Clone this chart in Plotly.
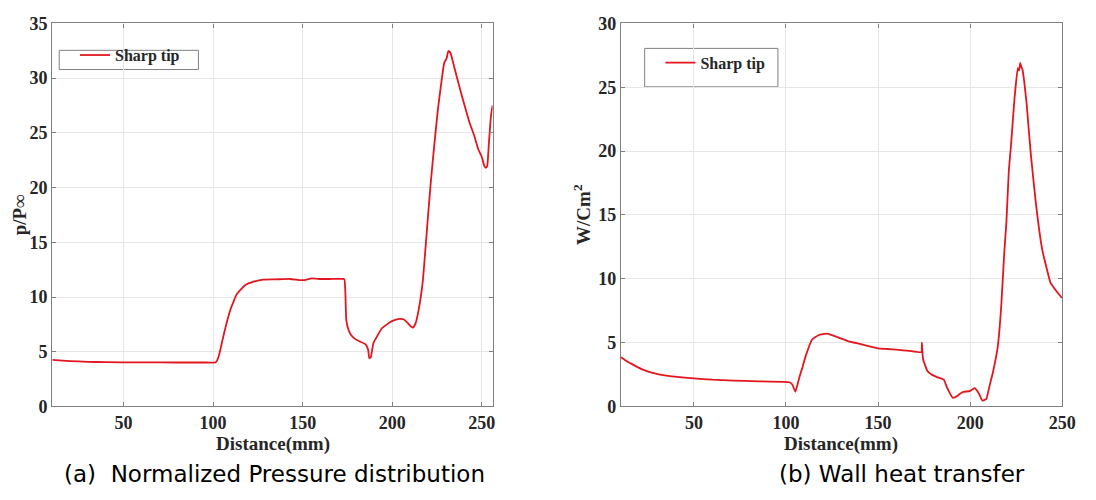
import plotly.graph_objects as go

# ---------- data ----------
dist_p = [10.3, 20, 30, 40, 60, 80, 95, 101.5, 103, 104.2, 106, 108, 110, 111.5, 113, 115, 118,
          122.6, 128, 135, 143, 148, 151, 155, 160, 165, 172.5, 173.3, 173.8, 174.3, 175, 176.7,
          179, 181, 185, 186.5, 187.2, 188, 189.5, 191.5, 194, 197, 199.8, 204, 206.5, 208.8,
          210.5, 211.5, 213, 214.7, 217, 219.7, 221.5, 223.5, 225.5, 227.3, 229, 230.3, 231.3,
          232.5, 234.6, 237, 240, 243, 245.6, 248, 250, 251.3, 252.2, 253, 253.9, 255.1, 256]
pressure = [4.25, 4.15, 4.08, 4.05, 4.03, 4.02, 4.02, 4.05, 4.5, 5.3, 6.6, 7.9, 9.0, 9.6, 10.2,
            10.6, 11.1, 11.4, 11.6, 11.62, 11.65, 11.55, 11.55, 11.7, 11.65, 11.65, 11.65, 11.6,
            10.5, 8.0, 7.3, 6.6, 6.2, 6.0, 5.7, 5.2, 4.4, 4.5, 5.8, 6.4, 7.1, 7.5, 7.8, 8.0, 7.95,
            7.6, 7.3, 7.2, 7.6, 8.8, 11.4, 16.9, 20.5, 24.0, 27.2, 29.5, 31.4, 31.8, 32.5, 32.3,
            31.0, 29.5, 27.7, 26.0, 24.8, 23.5, 22.8, 22.0, 21.8, 22.0, 24.0, 26.6, 27.5]

dist_q = [10.4, 14, 17.9, 22, 27, 35.9, 50, 60, 71.4, 85, 98.1, 101.9, 103.5, 105.1, 107.2, 109,
          110.8, 114.2, 117.9, 122.2, 128.6, 134, 140, 150, 155, 160, 167, 173.5, 173.8, 174.2,
          174.6, 176.7, 179, 182, 185.7, 187.4, 190.6, 192.8, 194.5, 196.3, 199.7, 202.4, 204.4,
          206.7, 208.8, 210.5, 212.4, 215, 216.8, 218.5, 219.7, 221, 222.2, 224, 225.8, 226.5,
          227.2, 227.8, 228.4, 229.3, 230.6, 232.9, 235.6, 239.1, 243.6, 247, 249.8]
heat = [3.86, 3.5, 3.2, 2.9, 2.65, 2.4, 2.2, 2.1, 2.03, 1.97, 1.93, 1.9, 1.7, 1.15, 2.25, 3.1,
        4.0, 5.25, 5.6, 5.7, 5.4, 5.1, 4.9, 4.55, 4.5, 4.45, 4.35, 4.25, 5.0, 4.0, 3.6, 2.8, 2.5,
        2.3, 2.1, 1.5, 0.68, 0.8, 1.0, 1.15, 1.2, 1.43, 1.1, 0.45, 0.6, 1.6, 2.7, 4.7, 7.7, 12.0,
        14.5, 18.5, 20.5, 24.0, 26.5, 26.3, 26.9, 26.6, 26.4, 25.5, 23.8, 19.8, 16.0, 12.3, 9.7,
        9.0, 8.5]

x_ticks = [50, 100, 150, 200, 250]
y_ticks_p = [0, 5, 10, 15, 20, 25, 30, 35]
y_ticks_q = [0, 5, 10, 15, 20, 25, 30]
series_name = "Sharp tip"
captions = ["(a)  Normalized Pressure distribution", "(b) Wall heat transfer"]

# ---------- layout ----------
W, H = 1096, 500
RED = "#e3161f"
AX = "#808080"
GRID = "#e6e6e6"
TXT = "#262626"
SERIF = "Liberation Serif"

def px_x(p):
    return p / W

def px_y(p):
    return 1 - p / H

fig = go.Figure()
fig.add_trace(go.Scatter(x=dist_p, y=pressure, mode="lines", name=series_name,
                         line=dict(color=RED, width=1.8, shape="spline", smoothing=0.4),
                         xaxis="x", yaxis="y", legend="legend"))
fig.add_trace(go.Scatter(x=dist_q, y=heat, mode="lines", name=series_name,
                         line=dict(color=RED, width=1.8, shape="spline", smoothing=0.3),
                         xaxis="x2", yaxis="y2", legend="legend2"))

tickfont = dict(family=SERIF, size=18, color=TXT, weight="bold")
common = dict(showline=True, linecolor=AX, linewidth=1.2, mirror="ticks", ticks="inside",
              ticklen=4, tickcolor=AX, showgrid=True, gridcolor=GRID, gridwidth=1,
              zeroline=False, tickfont=tickfont)

ydom = [px_y(413), px_y(14)]
legfont = dict(family=SERIF, size=16, color=TXT, weight="bold")
fig.update_layout(
    width=W, height=H, margin=dict(l=0, r=0, t=0, b=0),
    paper_bgcolor="white", plot_bgcolor="white",
    xaxis=dict(domain=[px_x(53), px_x(499)], range=[10.3, 256], tickvals=x_ticks, anchor="y", **common),
    yaxis=dict(domain=ydom, range=[0, 35], tickvals=y_ticks_p, anchor="x", **common),
    xaxis2=dict(domain=[px_x(629), px_x(1076)], range=[10.4, 250], tickvals=x_ticks, anchor="y2", **common),
    yaxis2=dict(domain=ydom, range=[0, 30], tickvals=y_ticks_q, anchor="x2", **common),
    legend=dict(x=px_x(76), y=px_y(47), xanchor="left", yanchor="middle",
                bgcolor="rgba(0,0,0,0)", borderwidth=0, font=legfont, itemwidth=30),
    legend2=dict(x=px_x(669), y=px_y(55), xanchor="left", yanchor="middle",
                 bgcolor="rgba(0,0,0,0)", borderwidth=0, font=legfont, itemwidth=30),
    showlegend=True,
)

# legend frames
fig.add_shape(type="rect", xref="paper", yref="paper", x0=px_x(60), x1=px_x(201),
              y0=px_y(62), y1=px_y(42), line=dict(color=AX, width=1), fillcolor="white", layer="below")
fig.add_shape(type="rect", xref="paper", yref="paper", x0=px_x(653), x1=px_x(788),
              y0=px_y(80), y1=px_y(40), line=dict(color=AX, width=1), fillcolor="white", layer="below")

lab = dict(family=SERIF, size=19, color=TXT, weight="bold")
capfont = dict(family="DejaVu Sans", size=23, color="black")
annos = [
    dict(text="p/P∞", x=px_x(20), y=px_y(213), textangle=-90, font=lab),
    dict(text="W/Cm<sup>2</sup>", x=px_x(590), y=px_y(213), textangle=-90, font=lab),
    dict(text="Distance(mm)", x=px_x(277), y=px_y(452), font=lab),
    dict(text="Distance(mm)", x=px_x(852), y=px_y(452), font=lab),
    dict(text=captions[0], x=px_x(278), y=px_y(483), font=capfont),
    dict(text=captions[1], x=px_x(914), y=px_y(483), font=capfont),
]
for a in annos:
    fig.add_annotation(xref="paper", yref="paper", showarrow=False,
                       xanchor="center", yanchor="middle", **a)

fig.write_html("out.html")
